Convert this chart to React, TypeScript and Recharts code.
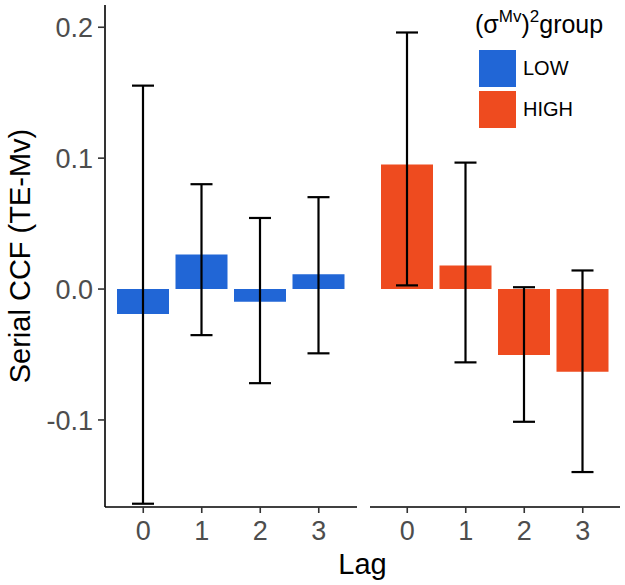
import { Bar, BarChart, ErrorBar, Legend, XAxis, YAxis } from 'recharts';

const lags = ['0', '1', '2', '3'];

const lowValues = [-0.019, 0.0264, -0.0097, 0.0114];
const lowLower = [-0.164, -0.0352, -0.0719, -0.0491];
const lowUpper = [0.1554, 0.0801, 0.0543, 0.0702];

const highValues = [0.0952, 0.0179, -0.0503, -0.0631];
const highLower = [0.0028, -0.056, -0.1014, -0.1398];
const highUpper = [0.196, 0.0966, 0.0014, 0.0142];

const yTicks = [-0.1, 0, 0.1, 0.2];
const groups = ['LOW', 'HIGH'];
const groupColors = ['#2166d6', '#ee4b1f'];

const yDomain = [-0.1665, 0.217];
const font = '"Liberation Sans", Arial, Helvetica, sans-serif';

const makeRows = (values: number[], lower: number[], upper: number[]) =>
    lags.map((lag, i) => ({
        lag,
        value: values[i],
        err: [values[i] - lower[i], upper[i] - values[i]],
    }));

const lowRows = makeRows(lowValues, lowLower, lowUpper);
const highRows = makeRows(highValues, highLower, highUpper);

const tickStyle = { fill: '#4d4d4d', fontSize: 27 };
const axisLine = { stroke: '#000', strokeWidth: 1.6 };
const tickLine = { stroke: '#333', strokeWidth: 1.6 };

const YTitle = (props: any) => {
    const { x, y, height } = props.viewBox;
    const cx = x + 20;
    const cy = y + height / 2;
    return (
        <text x={cx} y={cy} transform={`rotate(-90 ${cx} ${cy})`} textAnchor="middle"
              dominantBaseline="central" fontSize={29} fill="#000">
            Serial CCF (TE-Mv)
        </text>
    );
};

const GroupLegend = () => (
    <div style={{ position: 'relative', width: 150, height: 130, fontFamily: font, color: '#000' }}>
        <div style={{ position: 'absolute', left: 0, top: 12, fontSize: 25, lineHeight: '25px', whiteSpace: 'nowrap' }}>
            (σ<span style={{ fontSize: 17, position: 'relative', top: -11 }}>Mv</span>)
            <span style={{ fontSize: 17, position: 'relative', top: -11 }}>2</span>group
        </div>
        {groups.map((g, i) => (
            <div key={g}>
                <div style={{
                    position: 'absolute', left: 4, top: 50 + i * 41, width: 37, height: 37,
                    background: groupColors[i],
                }}/>
                <div style={{
                    position: 'absolute', left: 48, top: 50 + i * 41, height: 37, lineHeight: '37px',
                    fontSize: 20,
                }}>{g}</div>
            </div>
        ))}
    </div>
);

const fmt = (v: number) => v.toFixed(1);

export default function App() {
    return (
        <div style={{ position: 'absolute', left: 0, top: 0, width: 625, height: 585, background: '#fff', fontFamily: font }}>
            <div style={{ position: 'absolute', left: 0, top: 0 }}>
                <BarChart width={360} height={585} data={lowRows} barSize={52}
                          margin={{ top: 5, right: 3, bottom: 0, left: 0 }}>
                    <XAxis dataKey="lag" height={78} padding={{ left: 9, right: 9 }} interval={0}
                           tickSize={6} tickMargin={8} tick={tickStyle} axisLine={axisLine} tickLine={tickLine}/>
                    <YAxis type="number" domain={yDomain} ticks={yTicks} allowDataOverflow width={105}
                           tickSize={7} tickMargin={5} tickFormatter={fmt} tick={tickStyle}
                           axisLine={axisLine} tickLine={tickLine} label={<YTitle/>}/>
                    <Bar dataKey="value" fill={groupColors[0]} isAnimationActive={false}>
                        <ErrorBar dataKey="err" width={11} stroke="#000" strokeWidth={2.2} isAnimationActive={false}/>
                    </Bar>
                </BarChart>
            </div>
            <div style={{ position: 'absolute', left: 370, top: 0 }}>
                <BarChart width={255} height={585} data={highRows} barSize={52}
                          margin={{ top: 5, right: 5, bottom: 0, left: 0 }}>
                    <XAxis dataKey="lag" height={78} padding={{ left: 8, right: 8 }} interval={0}
                           tickSize={6} tickMargin={8} tick={tickStyle} axisLine={axisLine} tickLine={tickLine}/>
                    <YAxis type="number" domain={yDomain} ticks={yTicks} allowDataOverflow hide/>
                    <Legend layout="horizontal" verticalAlign="middle" align="center"
                            wrapperStyle={{ left: 105, top: 0, width: 150, height: 130 }}
                            content={() => <GroupLegend/>}/>
                    <Bar dataKey="value" fill={groupColors[1]} isAnimationActive={false}>
                        <ErrorBar dataKey="err" width={11} stroke="#000" strokeWidth={2.2} isAnimationActive={false}/>
                    </Bar>
                </BarChart>
            </div>
            <div style={{
                position: 'absolute', left: 312.5, top: 549.5, width: 100, textAlign: 'center',
                fontSize: 29, lineHeight: '29px', color: '#000',
            }}>Lag</div>
        </div>
    );
}
